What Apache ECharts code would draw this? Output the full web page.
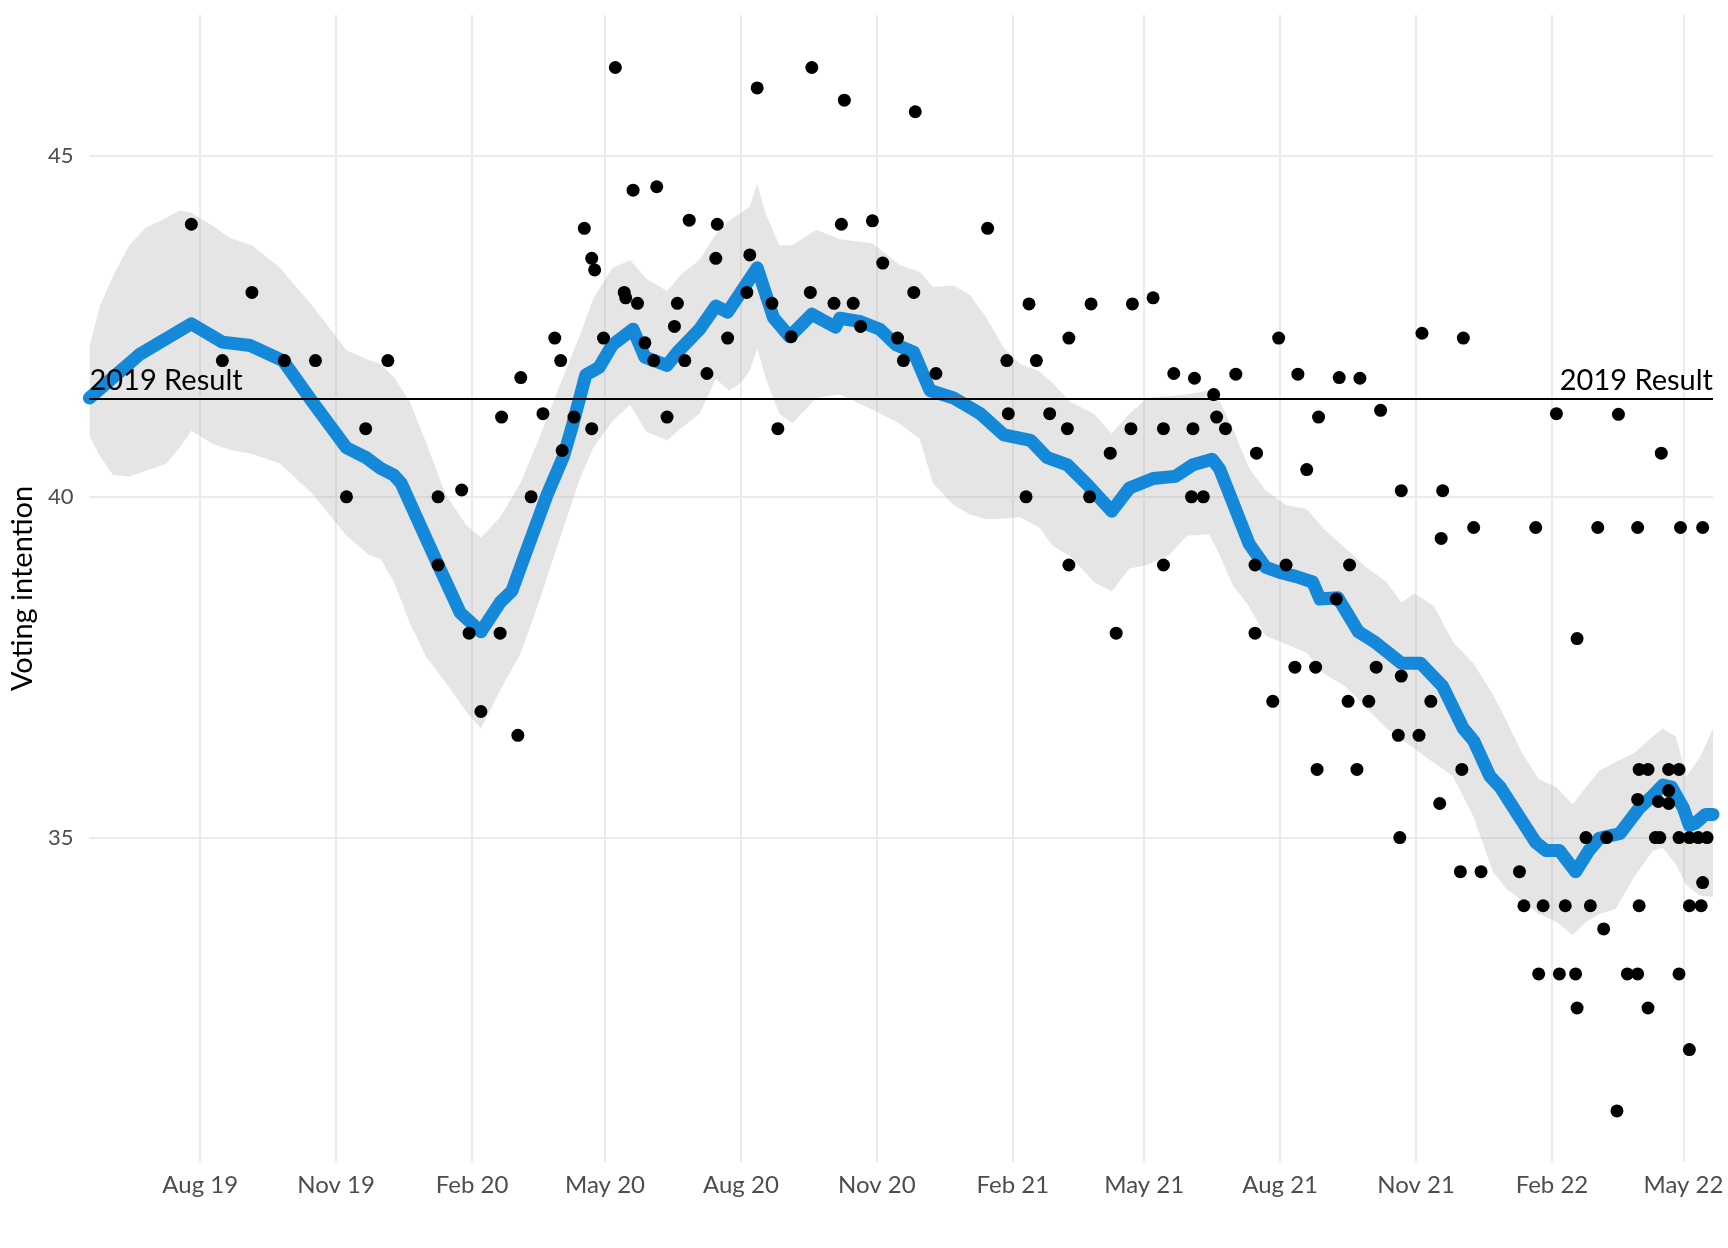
<!DOCTYPE html>
<html><head><meta charset="utf-8">
<script src="https://cdn.jsdelivr.net/npm/echarts@6/dist/echarts.min.js"></script>
<style>html,body{margin:0;padding:0;background:#fff}#c{width:1728px;height:1248px}</style>
</head><body><div id="c"></div>
<script>
const xStart = '2019-05-18';
const xEnd = '2022-05-21';
const tickDates = ['2019-08-01','2019-11-01','2020-02-01','2020-05-01','2020-08-01','2020-11-01','2021-02-01','2021-05-01','2021-08-01','2021-11-01','2022-02-01','2022-05-01'];
const tickLabels = ['Aug 19','Nov 19','Feb 20','May 20','Aug 20','Nov 20','Feb 21','May 21','Aug 21','Nov 21','Feb 22','May 22'];
const yTicks = [35, 40, 45];
const yMin = 30.24, yMax = 47.07;
const result2019 = 41.44;
const resultLabel = '2019 Result';
const yTitle = 'Voting intention';

const pollDates = ['2019-07-26','2019-08-16','2019-09-05','2019-09-27','2019-10-18','2019-11-08','2019-11-21','2019-12-06',
'2020-01-09','2020-01-09','2020-01-25','2020-01-30','2020-02-07','2020-02-20','2020-02-21','2020-03-03','2020-03-05','2020-03-12','2020-03-20','2020-03-28',
'2020-04-01','2020-04-02','2020-04-10','2020-04-17','2020-04-22','2020-04-22','2020-04-24','2020-04-30','2020-05-08','2020-05-14','2020-05-15','2020-05-20',
'2020-05-23','2020-05-28','2020-06-03','2020-06-05','2020-06-12','2020-06-17','2020-06-19','2020-06-24','2020-06-27','2020-07-09','2020-07-15','2020-07-16',
'2020-07-23','2020-08-05','2020-08-07','2020-08-12','2020-08-22','2020-08-26','2020-09-04','2020-09-17','2020-09-18','2020-10-03','2020-10-08','2020-10-10',
'2020-10-16','2020-10-21','2020-10-29','2020-11-05','2020-11-15','2020-11-19','2020-11-26','2020-11-27','2020-12-11',
'2021-01-15','2021-01-28','2021-01-29','2021-02-10','2021-02-12','2021-02-17','2021-02-26','2021-03-10','2021-03-11','2021-03-11','2021-03-25','2021-03-26',
'2021-04-08','2021-04-12','2021-04-22','2021-04-23','2021-05-07','2021-05-14','2021-05-14','2021-05-21','2021-06-02','2021-06-03','2021-06-04','2021-06-10',
'2021-06-17','2021-06-19','2021-06-25','2021-07-02','2021-07-15','2021-07-15','2021-07-16','2021-07-27','2021-07-31','2021-08-05','2021-08-11','2021-08-13',
'2021-08-19','2021-08-25','2021-08-26','2021-08-27','2021-09-08','2021-09-10','2021-09-16','2021-09-17','2021-09-22','2021-09-24','2021-09-30','2021-10-05',
'2021-10-08','2021-10-20','2021-10-21','2021-10-22','2021-10-22','2021-11-03','2021-11-05','2021-11-11','2021-11-17','2021-11-18','2021-11-19','2021-12-01',
'2021-12-02','2021-12-03','2021-12-10','2021-12-15',
'2022-01-10','2022-01-13','2022-01-21','2022-01-23','2022-01-26','2022-02-04','2022-02-06','2022-02-10','2022-02-17','2022-02-18','2022-02-18','2022-02-24',
'2022-02-27','2022-03-04','2022-03-08','2022-03-10','2022-03-17','2022-03-18','2022-03-24','2022-03-31','2022-03-31','2022-03-31','2022-04-01','2022-04-01',
'2022-04-07','2022-04-07','2022-04-12','2022-04-14','2022-04-15','2022-04-16','2022-04-21','2022-04-21','2022-04-21','2022-04-28','2022-04-28','2022-04-28',
'2022-04-29','2022-05-05','2022-05-05','2022-05-05','2022-05-11','2022-05-13','2022-05-14','2022-05-14','2022-05-17'];
const pollValues = [44.0,42.0,43.0,42.0,42.0,40.0,41.0,42.0,
40.0,39.0,40.1,38.0,36.85,38.0,41.17,36.5,41.75,40.0,41.22,42.33,
42.0,40.68,41.17,43.94,43.5,41.0,43.33,42.33,46.3,43.0,42.92,44.5,
42.84,42.26,42.0,44.55,41.17,42.5,42.84,42.0,44.06,41.81,43.5,44.0,
42.33,43.0,43.55,46.0,42.84,41.0,42.35,43.0,46.3,42.84,44.0,45.82,
42.84,42.5,44.05,43.43,42.33,42.0,43.0,45.65,41.81,
43.94,42.0,41.22,40.0,42.83,42.0,41.22,41.0,42.33,39.0,40.0,42.83,
40.64,38.0,41.0,42.83,42.92,41.0,39.0,41.81,40.0,41.0,41.74,40.0,
41.5,41.17,41.0,41.8,39.0,38.0,40.64,37.0,42.33,39.0,37.5,41.8,
40.4,37.5,36.0,41.17,38.5,41.75,37.0,39.0,36.0,41.74,37.0,37.5,
41.27,36.5,35.0,40.09,37.37,36.5,42.4,37.0,35.5,39.39,40.09,34.5,
36.0,42.33,39.55,34.5,
34.5,34.0,39.55,33.0,34.0,41.22,33.0,34.0,33.0,37.92,32.5,35.0,
34.0,39.55,33.66,35.0,30.99,41.21,33.0,39.55,35.56,33.0,36.0,34.0,
36.0,32.5,35.0,35.53,35.0,40.64,36.0,35.69,35.5,36.0,35.0,33.0,
39.55,35.0,34.0,31.89,35.0,34.0,34.34,39.55,35.0];

const lineDates = ['2019-05-18','2019-06-21','2019-07-26','2019-08-16','2019-09-04','2019-09-26','2019-10-16','2019-11-08','2019-11-21','2019-12-01','2019-12-10','2019-12-15',
'2020-01-08','2020-01-24','2020-02-07','2020-02-20','2020-02-28','2020-03-07','2020-03-23','2020-04-03','2020-04-09','2020-04-18','2020-04-27','2020-05-06',
'2020-05-20','2020-05-28','2020-06-12','2020-06-19','2020-07-04','2020-07-15','2020-07-23','2020-08-12','2020-08-23','2020-09-03','2020-09-18','2020-10-04',
'2020-10-07','2020-10-21','2020-11-03','2020-11-14','2020-11-26','2020-12-07','2020-12-23','2021-01-10','2021-01-26','2021-02-13','2021-02-24','2021-03-10',
'2021-03-23','2021-04-09','2021-04-21','2021-05-07','2021-05-22','2021-06-03','2021-06-16','2021-06-21','2021-07-11','2021-07-22','2021-08-01','2021-08-12',
'2021-08-23','2021-08-28','2021-09-09','2021-09-23','2021-10-04','2021-10-22','2021-11-04','2021-11-19','2021-12-03','2021-12-10','2021-12-21','2021-12-28',
'2022-01-10','2022-01-21','2022-01-28','2022-02-06','2022-02-17','2022-02-26','2022-03-05','2022-03-19','2022-04-01','2022-04-10','2022-04-17','2022-04-23',
'2022-05-01','2022-05-05','2022-05-09','2022-05-16','2022-05-21'];
const lineValues = [41.45,42.09,42.54,42.27,42.22,42.0,41.39,40.72,40.58,40.42,40.32,40.2,
39.05,38.3,38.02,38.45,38.62,39.1,40.04,40.6,41.05,41.79,41.9,42.23,
42.46,42.05,41.93,42.12,42.46,42.8,42.71,43.36,42.63,42.35,42.68,42.49,
42.62,42.57,42.46,42.23,42.12,41.56,41.45,41.22,40.91,40.83,40.58,40.47,
40.19,39.79,40.13,40.27,40.30,40.47,40.55,40.41,39.31,38.97,38.89,38.83,
38.75,38.5,38.52,38.02,37.87,37.56,37.56,37.22,36.6,36.42,35.9,35.74,
35.30,34.93,34.81,34.81,34.5,34.81,34.99,35.06,35.43,35.61,35.77,35.74,
35.43,35.18,35.21,35.34,35.34];

const bandDates = ['2019-05-18','2019-05-25','2019-06-03','2019-06-14','2019-06-25','2019-07-09','2019-07-18','2019-07-26','2019-08-10','2019-08-21','2019-09-05','2019-09-24',
'2019-10-16','2019-11-08','2019-11-23','2019-12-01','2019-12-10','2019-12-21','2020-01-01','2020-01-14','2020-01-28','2020-02-07','2020-02-20','2020-03-05',
'2020-03-18','2020-04-01','2020-04-14','2020-04-23','2020-05-06','2020-05-18','2020-05-29','2020-06-12','2020-06-21','2020-07-04','2020-07-15','2020-07-24',
'2020-08-01','2020-08-07','2020-08-12','2020-08-18','2020-08-27','2020-09-05','2020-09-21','2020-10-07','2020-10-29','2020-11-16','2020-11-30','2020-12-09',
'2020-12-23','2021-01-03','2021-01-14','2021-01-26','2021-02-06','2021-02-19','2021-02-28','2021-03-12','2021-03-28','2021-04-09','2021-04-21','2021-05-03',
'2021-05-18','2021-05-30','2021-06-14','2021-06-21','2021-06-30','2021-07-11','2021-07-22','2021-08-05','2021-08-19','2021-08-31','2021-09-14','2021-09-28',
'2021-10-12','2021-10-22','2021-10-31','2021-11-13','2021-11-26','2021-12-10','2021-12-23','2022-01-01','2022-01-12','2022-01-23','2022-02-04','2022-02-15',
'2022-02-24','2022-03-05','2022-03-16','2022-03-28','2022-04-10','2022-04-17','2022-04-26','2022-05-03','2022-05-12','2022-05-21'];
const bandUpper = [42.2,42.8,43.24,43.69,43.95,44.09,44.2,44.17,43.97,43.8,43.69,43.36,
42.8,42.15,42.01,41.95,41.76,41.39,40.79,40.04,39.59,39.4,39.7,40.21,
40.89,41.67,42.37,42.91,43.36,43.47,43.2,43.02,43.25,43.48,43.85,44.05,
44.17,44.26,44.59,44.14,43.69,43.69,43.92,43.78,43.72,43.41,43.3,43.08,
43.1,42.96,42.63,42.18,41.95,41.84,41.67,41.39,41.22,40.93,41.22,41.45,
41.48,41.5,41.56,41.4,41.0,40.42,40.1,39.88,39.82,39.52,39.25,38.97,
38.75,38.45,38.58,38.4,37.87,37.55,37.1,36.72,36.23,35.86,35.74,35.49,
35.74,35.98,36.11,36.23,36.48,36.6,36.48,35.9,36.17,36.6];
const bandLower = [40.9,40.6,40.32,40.3,40.38,40.49,40.72,40.97,40.77,40.69,40.63,40.49,
40.04,39.43,39.15,39.09,38.76,38.14,37.65,37.28,36.85,36.6,37.16,37.71,
38.5,39.43,40.27,40.72,41.11,41.35,40.95,40.83,41.0,41.22,41.73,41.56,
41.67,41.85,42.18,41.73,41.22,41.08,41.45,41.5,41.28,41.08,40.85,40.2,
39.88,39.74,39.67,39.68,39.7,39.55,39.28,39.13,38.75,38.61,38.95,39.0,
39.15,39.43,39.45,39.15,38.7,38.39,37.96,37.84,37.71,37.4,37.22,36.91,
36.6,36.45,36.3,36.1,35.9,35.3,34.5,34.25,34.07,33.88,33.76,33.57,
33.76,33.88,33.95,34.4,34.8,34.85,34.6,34.3,34.15,34.13];

const FONT = "Lato, 'Open Sans', 'DejaVu Sans', sans-serif";
const T = s => { const p = s.split('-').map(Number); return Date.UTC(p[0], p[1] - 1, p[2]); };
const tickValues = tickDates.map(T);
function labelFor(v) {
  let best = 0, bd = Infinity;
  tickValues.forEach((t, i) => { const d = Math.abs(t - v); if (d < bd) { bd = d; best = i; } });
  return tickLabels[best];
}

const chart = echarts.init(document.getElementById('c'), null, { renderer: 'canvas' });
chart.setOption({
  animation: false,
  backgroundColor: '#ffffff',
  grid: { left: 89, right: 15, top: 15, bottom: 86 },
  xAxis: {
    type: 'value', min: T(xStart), max: T(xEnd), scale: true,
    axisLine: { show: false },
    axisTick: { show: false, customValues: tickValues },
    axisLabel: { customValues: tickValues, formatter: v => labelFor(v), color: '#4d4d4d', fontSize: 24, fontFamily: FONT, margin: 11 },
    splitLine: { show: true, lineStyle: { color: '#ebebeb', width: 2 } }
  },
  yAxis: {
    type: 'value', min: yMin, max: yMax,
    name: yTitle, nameLocation: 'middle', nameGap: 50, nameRotate: 90,
    nameTextStyle: { color: '#000', fontSize: 29, fontFamily: FONT },
    axisLine: { show: false },
    axisTick: { show: false, customValues: yTicks },
    axisLabel: { customValues: yTicks, color: '#4d4d4d', fontSize: 22, fontFamily: FONT, margin: 16 },
    splitLine: { show: true, lineStyle: { color: '#ebebeb', width: 2 } }
  },
  series: [
    {
      name: 'band', type: 'custom', coordinateSystem: 'cartesian2d', silent: true, z: 1,
      data: bandDates.map((d, i) => [T(d), bandLower[i], bandUpper[i]]),
      encode: { x: 0, y: [1, 2] },
      renderItem: (params, api) => {
        if (params.dataIndex !== 0) return null;
        const n = bandDates.length;
        const pts = [];
        for (let i = 0; i < n; i++) pts.push(api.coord([api.value(0, i), api.value(2, i)]));
        for (let i = n - 1; i >= 0; i--) pts.push(api.coord([api.value(0, i), api.value(1, i)]));
        const cs = params.coordSys;
        return {
          type: 'polygon', shape: { points: pts },
          style: { fill: 'rgba(170,170,170,0.3)' },
          clipPath: { type: 'rect', shape: { x: cs.x, y: cs.y, width: cs.width, height: cs.height } }
        };
      }
    },
    {
      name: 'trend', type: 'line', symbol: 'none', z: 2,
      lineStyle: { color: '#1589d9', width: 13, join: 'round', cap: 'round' },
      data: lineDates.map((d, i) => [T(d), lineValues[i]])
    },
    {
      name: 'polls', type: 'scatter', symbol: 'circle', symbolSize: 13, z: 3,
      itemStyle: { color: '#000000', opacity: 1 },
      data: pollDates.map((d, i) => [T(d), pollValues[i]]),
      markLine: {
        silent: true, symbol: 'none', animation: false,
        lineStyle: { color: '#000000', width: 2, type: 'solid', opacity: 1 },
        label: { formatter: resultLabel, color: '#000000', fontSize: 29, fontFamily: FONT, distance: [0, 4] },
        data: [
          { yAxis: result2019, label: { position: 'insideStartTop' } },
          { yAxis: result2019, label: { position: 'insideEndTop' } }
        ]
      }
    }
  ]
});
</script>
</body></html>
